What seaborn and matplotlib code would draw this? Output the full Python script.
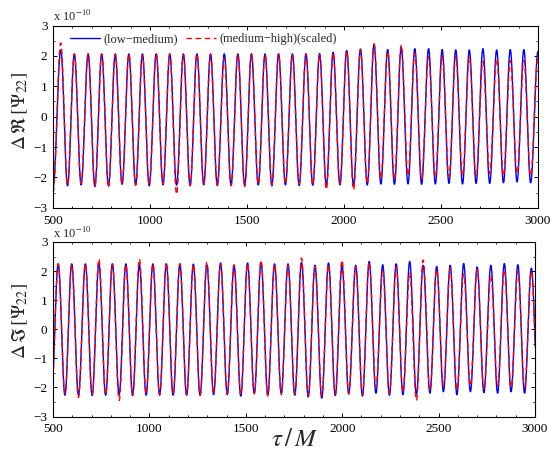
import numpy as np
import pandas as pd
import matplotlib
matplotlib.use("Agg")
import matplotlib.pyplot as plt
import seaborn as sns
from matplotlib.ticker import MultipleLocator

# ---------------- data (units of 1e-10), extrema ----------------
label_lm = "(low\u2212medium)"
label_mh = "(medium\u2212high)(scaled)"

re_t = [500, 540, 575, 610, 645, 681, 716, 751, 786, 821, 856, 891, 926, 961, 996, 1032,
        1067, 1102, 1137, 1172, 1207, 1242, 1277, 1312, 1347, 1383, 1418, 1453, 1488, 1523,
        1558, 1593, 1628, 1663, 1698, 1734, 1769, 1804, 1839, 1874, 1909, 1944, 1979, 2014,
        2049, 2085, 2120, 2155, 2190, 2225, 2260, 2295, 2330, 2365, 2400, 2436, 2471, 2506,
        2541, 2576, 2611, 2646, 2681, 2716, 2751, 2787, 2822, 2857, 2892, 2927, 2962, 3000]
re_low_med = [-2.35, 2.20, -2.28, 2.07, -2.25, 2.07, -2.30, 2.07, -2.28, 2.07, -2.23, 2.07,
              -2.26, 2.07, -2.28, 2.07, -2.25, 2.07, -2.26, 2.07, -2.28, 2.07, -2.25, 2.07,
              -2.27, 2.07, -2.25, 2.07, -2.27, 2.07, -2.25, 2.07, -2.28, 2.07, -2.25, 2.07,
              -2.27, 2.07, -2.26, 2.08, -2.27, 2.12, -2.25, 2.18, -2.27, 2.23, -2.25, 2.38,
              -2.22, 2.21, -2.23, 2.28, -2.22, 2.24, -2.23, 2.24, -2.22, 2.21, -2.20, 2.20,
              -2.22, 2.20, -2.20, 2.24, -2.20, 2.20, -2.18, 2.21, -2.15, 2.21, -2.18, 2.15]
re_med_high = [-2.50, 2.43, -2.25, 2.07, -2.20, 2.07, -2.28, 2.05, -2.33, 2.05, -2.23, 2.07,
               -2.25, 2.02, -2.25, 2.07, -2.22, 2.07, -2.56, 2.05, -2.26, 2.07, -2.22, 2.05,
               -2.25, 1.92, -2.28, 2.05, -2.30, 2.07, -2.22, 2.05, -2.25, 2.07, -2.22, 2.05,
               -2.22, 2.07, -2.25, 2.05, -2.40, 2.10, -2.22, 2.18, -2.42, 2.20, -2.20, 2.40,
               -2.05, 2.15, -2.08, 2.35, -1.95, 2.10, -2.05, 1.98, -2.00, 2.02, -1.98, 2.00,
               -1.95, 1.95, -1.95, 1.82, -1.88, 1.90, -1.95, 1.85, -1.88, 1.85, -1.95, 1.95]

im_t = [492, 527, 562, 597, 632, 668, 703, 738, 773, 808, 843, 878, 913, 948, 983, 1018,
        1053, 1088, 1123, 1158, 1193, 1228, 1263, 1298, 1333, 1369, 1404, 1439, 1474, 1509,
        1544, 1579, 1614, 1649, 1684, 1719, 1754, 1789, 1824, 1859, 1894, 1929, 1964, 1999,
        2034, 2070, 2105, 2140, 2175, 2210, 2245, 2280, 2315, 2350, 2385, 2420, 2455, 2490,
        2525, 2560, 2595, 2630, 2665, 2700, 2735, 2771, 2806, 2841, 2876, 2911, 2946, 2981, 3016]
im_low_med = [-2.20, 2.25, -2.27, 2.25, -2.27, 2.25, -2.28, 2.25, -2.27, 2.25, -2.25, 2.25,
              -2.28, 2.22, -2.27, 2.25, -2.27, 2.25, -2.27, 2.25, -2.27, 2.24, -2.27, 2.22,
              -2.25, 2.28, -2.25, 2.20, -2.30, 2.28, -2.20, 2.30, -2.25, 2.25, -2.20, 2.25,
              -2.27, 2.30, -2.33, 2.20, -2.37, 2.28, -2.28, 2.20, -2.23, 2.20, -2.30, 2.33,
              -2.20, 2.22, -2.27, 2.25, -2.25, 2.33, -2.25, 2.20, -2.20, 2.16, -2.15, 2.20,
              -2.25, 2.26, -2.15, 2.14, -2.18, 2.20, -2.20, 2.26, -2.15, 2.22, -2.20, 2.10, -2.20]
im_med_high = [-2.10, 2.25, -2.20, 2.22, -2.35, 2.25, -2.25, 2.42, -2.25, 2.25, -2.45, 2.22,
               -2.25, 2.42, -2.22, 2.25, -2.25, 2.28, -2.22, 2.25, -2.25, 2.22, -2.28, 2.30,
               -2.22, 2.25, -2.20, 2.22, -2.25, 2.25, -2.22, 2.36, -2.30, 2.22, -2.25, 2.20,
               -2.22, 2.45, -2.28, 2.15, -2.30, 2.22, -2.25, 2.38, -2.20, 2.15, -2.25, 2.30,
               -2.00, 2.00, -2.20, 2.15, -2.15, 1.95, -2.45, 2.38, -2.10, 2.05, -1.95, 2.10,
               -2.10, 1.90, -1.95, 2.05, -2.05, 1.85, -1.95, 2.05, -2.00, 2.00, -2.00, 2.00, -2.00]

x_ticks = [500, 1000, 1500, 2000, 2500, 3000]
y_ticks = [-3, -2, -1, 0, 1, 2, 3]


def smooth_curve(times, extrema, n=24):
    """Half-cosine segments joining consecutive extrema."""
    ts, vs = [], []
    for i in range(len(times) - 1):
        s = np.linspace(0.0, 1.0, n, endpoint=False)
        ts.append(times[i] + (times[i + 1] - times[i]) * s)
        vs.append(extrema[i] + (extrema[i + 1] - extrema[i]) * (1 - np.cos(np.pi * s)) / 2)
    ts.append([times[-1]])
    vs.append([extrema[-1]])
    return np.concatenate(ts), np.concatenate(vs)


def frame(times, lm, mh):
    parts = []
    for lab, ext in ((label_lm, lm), (label_mh, mh)):
        t, v = smooth_curve(times, ext)
        parts.append(pd.DataFrame({"t": t, "v": v, "series": lab}))
    return pd.concat(parts, ignore_index=True)


df_re = frame(re_t, re_low_med, re_med_high)
df_im = frame(im_t, im_low_med, im_med_high)

# ---------------- style ----------------
sns.set_style("ticks")
plt.rcParams["font.family"] = ["Liberation Serif", "DejaVu Serif"]
plt.rcParams["mathtext.fontset"] = "stix"
plt.rcParams["axes.linewidth"] = 0.8
for ax_ in ("xtick", "ytick"):
    plt.rcParams[f"{ax_}.direction"] = "in"
    plt.rcParams[f"{ax_}.major.size"] = 3.2
    plt.rcParams[f"{ax_}.minor.size"] = 1.6
    plt.rcParams[f"{ax_}.major.width"] = 0.7
    plt.rcParams[f"{ax_}.minor.width"] = 0.6
    plt.rcParams[f"{ax_}.color"] = "black"
    plt.rcParams[f"{ax_}.labelsize"] = 9.5
plt.rcParams["xtick.top"] = True
plt.rcParams["ytick.right"] = True

palette = {label_lm: "#0000ff", label_mh: "#ff0000"}
dashes = {label_lm: "", label_mh: (4, 2.6)}

W, H = 552, 454
fig = plt.figure(figsize=(W / 100, H / 100), dpi=100)
ax1 = fig.add_axes([53 / W, 1 - 207.7 / H, 485 / W, (207.7 - 25.6) / H])
ax2 = fig.add_axes([53 / W, 1 - 416.5 / H, 482 / W, (416.5 - 242.0) / H])

for ax, df, show_leg in ((ax1, df_re, True), (ax2, df_im, False)):
    sns.lineplot(data=df, x="t", y="v", hue="series", style="series",
                 hue_order=[label_lm, label_mh], style_order=[label_lm, label_mh],
                 palette=palette, dashes=dashes, linewidth=1.0, estimator=None,
                 legend=show_leg, ax=ax)
    ax.set_xlim(500, 3000)
    ax.set_ylim(-3, 3)
    ax.set_xticks(x_ticks)
    ax.set_yticks(y_ticks)
    ax.xaxis.set_minor_locator(MultipleLocator(100))
    ax.yaxis.set_minor_locator(MultipleLocator(0.5))
    ax.tick_params(which="both", top=True, right=True, direction="in")
    ax.tick_params(axis="x", pad=5)
    ax.tick_params(axis="y", pad=4)
    for sp in ax.spines.values():
        sp.set_color("black")
        sp.set_linewidth(0.8)
    ax.set_xlabel("")
    ax.text(0.0, 1.008, "x 10$^{-10}$", transform=ax.transAxes, ha="left", va="bottom",
            fontsize=9)

ax1.set_ylabel(r"$\Delta\,\Re\,[\Psi_{22}]$", fontsize=14)
ax2.set_ylabel(r"$\Delta\,\Im\,[\Psi_{22}]$", fontsize=14)
ax1.yaxis.set_label_coords(-0.047, 0.53)
ax2.yaxis.set_label_coords(-0.047, 0.55)
ax2.set_xlabel(r"$\tau\,/\,M$", fontsize=18)
ax2.xaxis.set_label_coords(0.502, -0.07)

handles, labels = ax1.get_legend_handles_labels()
ax1.legend(handles=handles, labels=labels, loc="center left", bbox_to_anchor=(0.035, 0.925),
           ncol=2, frameon=False, fontsize=9, handlelength=2.4, handletextpad=0.25,
           columnspacing=0.7, borderpad=0.0, borderaxespad=0.0)

fig.savefig("out.png", dpi=100)
